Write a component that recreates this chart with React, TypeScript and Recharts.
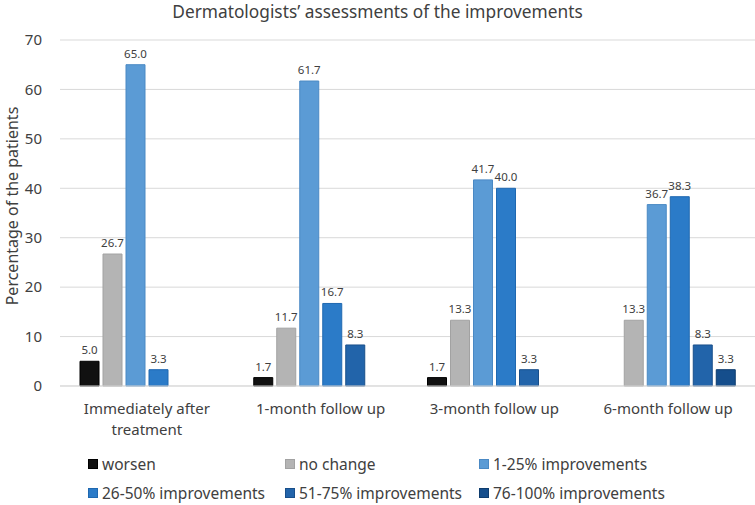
import { Bar, BarChart, CartesianGrid, LabelList, Legend, XAxis, YAxis } from 'recharts'

const categories = ['Immediately after treatment', '1-month follow up', '3-month follow up', '6-month follow up']
const worsen = [5.0, 1.7, 1.7, null]
const noChange = [26.7, 11.7, 13.3, 13.3]
const imp1to25 = [65.0, 61.7, 41.7, 36.7]
const imp26to50 = [3.3, 16.7, 40.0, 38.3]
const imp51to75 = [null, 8.3, 3.3, 8.3]
const imp76to100 = [null, null, null, 3.3]
const yTicks = [0, 10, 20, 30, 40, 50, 60, 70]

const series = [
  { key: 'worsen', name: 'worsen', values: worsen, fill: '#111111', stroke: '#000000' },
  { key: 'noChange', name: 'no change', values: noChange, fill: '#b4b4b4', stroke: '#a2a2a2' },
  { key: 'imp1', name: '1-25% improvements', values: imp1to25, fill: '#5b9bd5', stroke: '#4a89c4' },
  { key: 'imp2', name: '26-50% improvements', values: imp26to50, fill: '#2b7bc8', stroke: '#1f68b0' },
  { key: 'imp3', name: '51-75% improvements', values: imp51to75, fill: '#2264aa', stroke: '#194f8a' },
  { key: 'imp4', name: '76-100% improvements', values: imp76to100, fill: '#154e8c', stroke: '#0e3c6e' }
]

const data = categories.map((c, i) => {
  const row: any = { category: c }
  series.forEach(s => { row[s.key] = s.values[i] })
  return row
})

const FONT = '"Noto Sans", sans-serif'

const CategoryTick = (props: any) => {
  const { x, y, payload } = props
  const lines = payload.value === 'Immediately after treatment'
    ? ['Immediately after', 'treatment']
    : [payload.value]
  return (
    <text x={x} y={y} textAnchor='middle' fill='#404040' fontSize={15} fontFamily={FONT}>
      {lines.map((l, i) => (
        <tspan key={i} x={x} dy={i === 0 ? 20 : 21}>{l}</tspan>
      ))}
    </text>
  )
}

const renderLegend = () => (
  <div style={{ display: 'grid', gridTemplateColumns: '197px 194px 210px', rowGap: 7, fontFamily: FONT, fontSize: 15.5, lineHeight: '22px', color: '#404040' }}>
    {series.map(s => (
      <div key={s.key} style={{ display: 'flex', alignItems: 'center', height: 22 }}>
        <span style={{ width: 8, height: 8, background: s.fill, border: `1px solid ${s.stroke}`, marginRight: 4, flex: 'none' }} />
        <span style={{ whiteSpace: 'nowrap' }}>{s.name}</span>
      </div>
    ))}
  </div>
)

export default function App() {
  return (
    <div style={{ position: 'fixed', top: 0, left: 0, width: 755, height: 505, background: '#fff' }}>
      <div style={{ position: 'absolute', top: 0, left: 0, width: 755, textAlign: 'center', fontFamily: FONT, fontSize: 17.3, lineHeight: '24px', color: '#404040', zIndex: 1 }}>
        Dermatologists’ assessments of the improvements
      </div>
      <BarChart
        width={755}
        height={505}
        data={data}
        margin={{ top: 40, right: 0, bottom: 0, left: 0 }}
        barSize={19}
        barGap={4}
      >
        <CartesianGrid vertical={false} stroke='#d9d9d9' />
        <XAxis
          dataKey='category'
          height={119}
          tickLine={false}
          axisLine={{ stroke: '#d9d9d9' }}
          tick={<CategoryTick />}
          interval={0}
        />
        <YAxis
          width={60}
          domain={[0, 70]}
          ticks={yTicks}
          axisLine={false}
          tickLine={false}
          tickMargin={12}
          tick={{ fill: '#404040', fontSize: 15, fontFamily: FONT }}
          label={{
            content: () => (
              <text transform='translate(12,206) rotate(-90)' textAnchor='middle' dominantBaseline='central' fill='#404040' fontSize={16} fontFamily={FONT}>
                Percentage of the patients
              </text>
            )
          }}
        />
        <Legend
          layout='horizontal'
          verticalAlign='middle'
          align='center'
          content={renderLegend}
          wrapperStyle={{ top: 453, left: 88, width: 620, height: 52, overflow: 'visible' }}
        />
        {series.map(s => (
          <Bar key={s.key} dataKey={s.key} name={s.name} fill={s.fill} stroke={s.stroke} strokeWidth={1} isAnimationActive={false}>
            <LabelList
              dataKey={s.key}
              position='top'
              offset={7}
              fill='#404040'
              fontSize={11.5}
              fontFamily={FONT}
              formatter={(v: any) => (v == null ? '' : Number(v).toFixed(1))}
            />
          </Bar>
        ))}
      </BarChart>
    </div>
  )
}
